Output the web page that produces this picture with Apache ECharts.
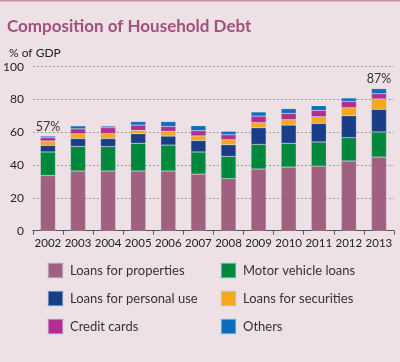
<!DOCTYPE html>
<html>
<head>
<meta charset="utf-8">
<script src="https://cdn.jsdelivr.net/npm/echarts@6/dist/echarts.min.js"></script>
<style>
html,body{margin:0;padding:0;background:#ede1e5;}
#c{width:400px;height:362px;}
</style>
</head>
<body>
<div id="c"></div>
<script>
var years = ['2002','2003','2004','2005','2006','2007','2008','2009','2010','2011','2012','2013'];
var properties = [33.7, 36.4, 36.4, 36.4, 36.4, 34.5, 31.7, 37.6, 38.8, 39.4, 42.5, 44.9];
var motorVehicle = [14.3, 15.0, 14.9, 16.9, 15.8, 13.5, 13.6, 15.0, 14.5, 14.7, 14.2, 15.3];
var personalUse = [4.0, 4.8, 4.9, 5.8, 5.5, 7.0, 7.1, 10.2, 11.1, 11.3, 13.4, 13.8];
var securities = [2.7, 2.9, 3.0, 2.1, 2.9, 2.8, 3.1, 3.1, 3.3, 4.1, 4.9, 6.3];
var creditCards = [2.2, 3.0, 3.6, 3.2, 3.0, 3.2, 3.0, 4.0, 3.8, 3.9, 3.9, 3.2];
var others = [0.8, 1.8, 1.0, 2.1, 2.9, 3.0, 2.1, 2.5, 2.9, 2.8, 2.0, 3.1];
var totalLabels = ['57%', '', '', '', '', '', '', '', '', '', '', '87%'];
var yTicks = [0, 20, 40, 60, 80, 100];

var names = ['Loans for properties','Motor vehicle loans','Loans for personal use','Loans for securities','Credit cards','Others'];
var colors = ['#a0607f','#00883c','#1a3d87','#f6a81c','#b22e8e','#0b6dbb'];
var datas = [properties, motorVehicle, personalUse, securities, creditCards, others];

var FONT = 'Lato';
var series = names.map(function(n, i){
  var s = {
    name: n, type: 'bar', stack: 'total', barWidth: 15,
    data: datas[i],
    itemStyle: {color: colors[i], borderColor: 'rgba(200,215,235,0.5)', borderWidth: 0.5},
    emphasis: {disabled: true}
  };
  if (i === names.length - 1) {
    s.label = {
      show: true, position: 'top', distance: 3,
      formatter: function(p){ return totalLabels[p.dataIndex]; },
      color: '#333', fontFamily: FONT, fontSize: 12.5
    };
  }
  return s;
});

var legendCommon = {
  orient: 'vertical', top: 262, padding: 0, itemWidth: 15, itemHeight: 15, itemGap: 11,
  icon: 'rect', selectedMode: false,
  textStyle: {color: '#333', fontFamily: FONT, fontSize: 13, lineHeight: 15, padding: [0,0,0,2]}
};

var chart = echarts.init(document.getElementById('c'), null, {renderer: 'canvas'});
chart.setOption({
  backgroundColor: '#ede1e5',
  animation: false,
  title: [
    {text: 'Composition of Household Debt', left: 2, top: 13,
     textStyle: {color: '#a4507a', fontFamily: FONT, fontWeight: 'bold', fontSize: 17}},
    {text: '% of GDP', left: 4, top: 42,
     textStyle: {color: '#222', fontFamily: FONT, fontWeight: 'normal', fontSize: 12}}
  ],
  graphic: [{type: 'rect', shape: {x: 0, y: 0, width: 400, height: 1.5}, style: {fill: '#c890a8'}}],
  grid: {left: 30, right: 6, top: 66.7, height: 164, containLabel: false},
  xAxis: {
    type: 'category', data: years,
    axisLine: {lineStyle: {color: '#555', width: 1}},
    axisTick: {show: true, length: 4, lineStyle: {color: '#555'}},
    axisLabel: {color: '#222', fontFamily: FONT, fontSize: 11.5, margin: 7, interval: 0}
  },
  yAxis: {
    type: 'value', min: 0, max: 100, interval: 20,
    axisLine: {show: false}, axisTick: {show: false},
    axisLabel: {color: '#222', fontFamily: FONT, fontSize: 12, margin: 9,
      formatter: function(v){ return yTicks.indexOf(v) >= 0 ? String(v) : ''; }},
    splitLine: {show: true, lineStyle: {color: '#999', type: [2, 2], width: 1}}
  },
  legend: [
    Object.assign({data: [names[0], names[2], names[4]], left: 47}, legendCommon),
    Object.assign({data: [names[1], names[3], names[5]], left: 220}, legendCommon)
  ],
  series: series
});
</script>
</body>
</html>
